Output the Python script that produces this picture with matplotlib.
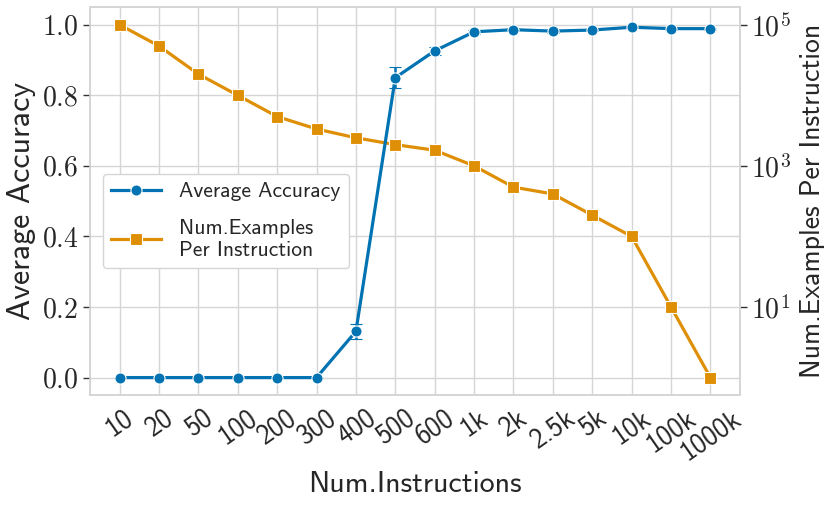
import numpy as np
import matplotlib
matplotlib.use("Agg")
from matplotlib import pyplot
from matplotlib.lines import Line2D
from matplotlib.ticker import FixedLocator, FuncFormatter, NullFormatter

pyplot.rcParams['font.family'] = ['cmss10', 'DejaVu Sans']
pyplot.rcParams['mathtext.fontset'] = 'cm'
pyplot.rcParams['axes.unicode_minus'] = False
pyplot.rcParams['text.color'] = '#262626'
pyplot.rcParams['axes.labelcolor'] = '#262626'
pyplot.rcParams['xtick.color'] = '#262626'
pyplot.rcParams['ytick.color'] = '#262626'

labels = ['10', '20', '50', '100', '200', '300', '400', '500', '600',
          '1k', '2k', '2.5k', '5k', '10k', '100k', '1000k']
accuracy = [0.0, 0.0, 0.0, 0.0, 0.0, 0.0, 0.131, 0.85, 0.926, 0.980,
            0.986, 0.982, 0.985, 0.993, 0.989, 0.989]
acc_err = [0.0, 0.0, 0.0, 0.0, 0.0, 0.0, 0.021, 0.03, 0.012, 0.006,
           0.004, 0.006, 0.004, 0.003, 0.003, 0.003]
examples = [100000, 50000, 20000, 10000, 5000, 3333, 2500, 2000, 1667,
            1000, 500, 400, 200, 100, 10, 1]

blue = '#0173b2'
orange = '#de8f05'
grid_c = '#d5d5d5'

fig = pyplot.figure(figsize=(8.3, 5.08), dpi=100)
ax_log = fig.add_axes([0.108, 0.222, 0.784, 0.764])
ax_acc = ax_log.twinx()

x = np.arange(len(labels))

# examples per instruction (lower axes, right side, log)
ax_log.plot(x, examples, color=orange, lw=2.3, marker='s', ms=8,
            mec='white', mew=0.8)
ax_log.set_yscale('log')
ax_log.set_ylim(10 ** -0.25, 10 ** 5.25)
ax_log.yaxis.set_major_locator(FixedLocator([10, 1e3, 1e5]))
ax_log.yaxis.set_minor_locator(FixedLocator([1, 100, 1e4]))
ax_log.yaxis.set_minor_formatter(NullFormatter())
ax_log.yaxis.set_major_formatter(
    FuncFormatter(lambda v, p: r'$10^{%d}$' % round(np.log10(v))))
ax_log.yaxis.tick_right()
ax_log.yaxis.set_label_position('right')
ax_log.set_ylabel('Num.Examples Per Instruction', fontsize=20, labelpad=6)
ax_log.tick_params(axis='y', which='major', labelsize=20, length=5,
                   width=1, color='#333333', pad=3)
ax_log.tick_params(axis='y', which='minor', length=0)
ax_log.grid(True, which='both', axis='y', color=grid_c, lw=1)
ax_log.grid(True, axis='x', color=grid_c, lw=1)
ax_log.set_axisbelow(True)

# accuracy (upper axes, left side)
ax_acc.errorbar(x, accuracy, yerr=acc_err, color=blue, lw=2.3, marker='o',
                ms=8, mec='white', mew=0.8, capsize=4, capthick=1.8,
                elinewidth=1.8)
ax_acc.set_ylim(-0.05, 1.05)
ax_acc.yaxis.set_major_locator(FixedLocator([0, 0.2, 0.4, 0.6, 0.8, 1.0]))
ax_acc.yaxis.set_major_formatter(FuncFormatter(lambda v, p: r'$%.1f$' % v))
ax_acc.yaxis.tick_left()
ax_acc.yaxis.set_label_position('left')
ax_acc.set_ylabel('Average Accuracy', fontsize=23, labelpad=4)
ax_acc.tick_params(axis='y', labelsize=20, length=5, width=1,
                   color='#333333', pad=3)

ax_log.set_xlim(-0.76, len(labels) - 0.24)
ax_log.set_xticks(x)
ax_log.set_xticklabels(labels, rotation=35, ha='center')
ax_log.tick_params(axis='x', labelsize=19.5, length=0, pad=7)
ax_log.set_xlabel('Num.Instructions', fontsize=21.5, labelpad=5)

for a in (ax_log, ax_acc):
    for s in a.spines.values():
        s.set_color(grid_c)
        s.set_linewidth(1.2)

handles = [
    Line2D([], [], color=blue, lw=2.3, marker='o', ms=8, mec='white', mew=0.8),
    Line2D([], [], color=orange, lw=2.3, marker='s', ms=8, mec='white', mew=0.8),
]
leg = ax_acc.legend(handles, ['Average Accuracy', 'Num.Examples\nPer Instruction'],
                    loc='lower left', bbox_to_anchor=(0.02, 0.327),
                    borderaxespad=0, fontsize=15.5, handlelength=2.3,
                    handletextpad=0.85, framealpha=1, edgecolor=grid_c,
                    fancybox=True, borderpad=0.4, labelspacing=0.8)

fig.savefig('out.png', dpi=100)
